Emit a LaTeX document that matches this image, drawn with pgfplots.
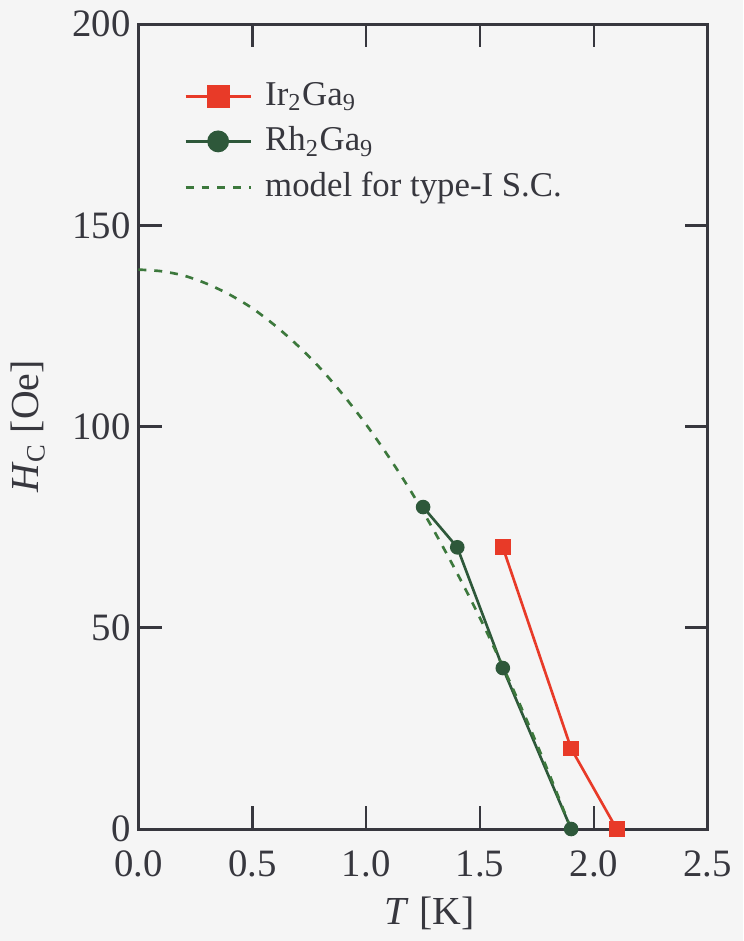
\documentclass[border=0pt]{standalone}
\usepackage{pgfplots}
\pgfplotsset{compat=1.18}
\usepackage{fontspec}
\setmainfont{Liberation Serif}
\definecolor{bgc}{RGB}{245,245,245}
\definecolor{irred}{RGB}{232,58,40}
\definecolor{rhgreen}{RGB}{46,88,58}
\definecolor{modgreen}{RGB}{60,120,60}
\definecolor{axc}{RGB}{55,55,62}
\pagecolor{bgc}
\pgfplotsset{
  sqlegend/.style={legend image code/.code={\draw[mark repeat=2,mark phase=2,##1,mark size=3.1pt] plot coordinates {(0cm,0cm) (0.345cm,0cm) (0.69cm,0cm)};}},
  cilegend/.style={legend image code/.code={\draw[mark repeat=2,mark phase=2,##1,mark size=2.9pt] plot coordinates {(0cm,0cm) (0.345cm,0cm) (0.69cm,0cm)};}},
  dalegend/.style={legend image code/.code={\draw[##1] (0cm,0cm) -- (0.69cm,0cm);}},
}
\begin{document}
\begin{tikzpicture}
\begin{axis}[
  scale only axis,
  width=171.9pt, height=243pt,
  xmin=0, xmax=2.5, ymin=0, ymax=200,
  xtick={0,0.5,1.0,1.5,2.0,2.5},
  ytick={0,50,100,150,200},
  xticklabel style={yshift=-3pt, /pgf/number format/fixed, /pgf/number format/fixed zerofill, /pgf/number format/precision=1},
  /pgf/number format/assume math mode=true,
  tick align=inside,
  major tick length=7pt,
  tick style={axc, line width=0.8pt},
  axis line style={axc, line width=0.9pt},
  tick label style={font=\fontsize{11.7}{13}\selectfont, text=axc},
  yticklabel style={xshift=1.2pt},
  label style={font=\fontsize{12}{14}\selectfont, text=axc},
  xlabel={\textit{T} [K]},
  ylabel={\textit{H}\textsubscript{C} [Oe]},
  xlabel style={yshift=0.8pt, xshift=2pt},
  ylabel style={yshift=1.5pt},
  legend style={draw=none, fill=none, at={(0.062,0.945)}, anchor=north west,
    font=\fontsize{10.5}{12}\selectfont, text=axc, row sep=1pt},
  legend cell align=left,
]
\addplot[irred, line width=0.8pt, mark=square*, mark size=2.0pt, mark options={solid}, sqlegend]
  coordinates {(1.6,70) (1.9,20) (2.1,0)};
\addlegendentry{\hspace{2pt}Ir\textsubscript{2}Ga\textsubscript{9}}
\addplot[rhgreen, line width=0.8pt, mark=*, mark size=1.8pt, cilegend]
  coordinates {(1.25,80) (1.4,70) (1.6,40) (1.9,0)};
\addlegendentry{\hspace{2pt}Rh\textsubscript{2}Ga\textsubscript{9}}
\addplot[modgreen, line width=0.8pt, dash pattern=on 2.4pt off 2.4pt, smooth, mark=none, dalegend]
  coordinates {(0,139) (0.1,138.6) (0.2,137.5) (0.3,135.5) (0.4,132.8) (0.5,129.4)
   (0.6,125.1) (0.7,120.1) (0.8,114.4) (0.9,107.8) (1.0,100.5) (1.1,92.4)
   (1.2,83.6) (1.3,73.9) (1.4,63.5) (1.5,52.4) (1.6,40.4) (1.7,27.7)
   (1.8,14.2) (1.9,0)};
\addlegendentry{\hspace{2pt}model for type-I S.C.}
\end{axis}
\end{tikzpicture}
\end{document}
